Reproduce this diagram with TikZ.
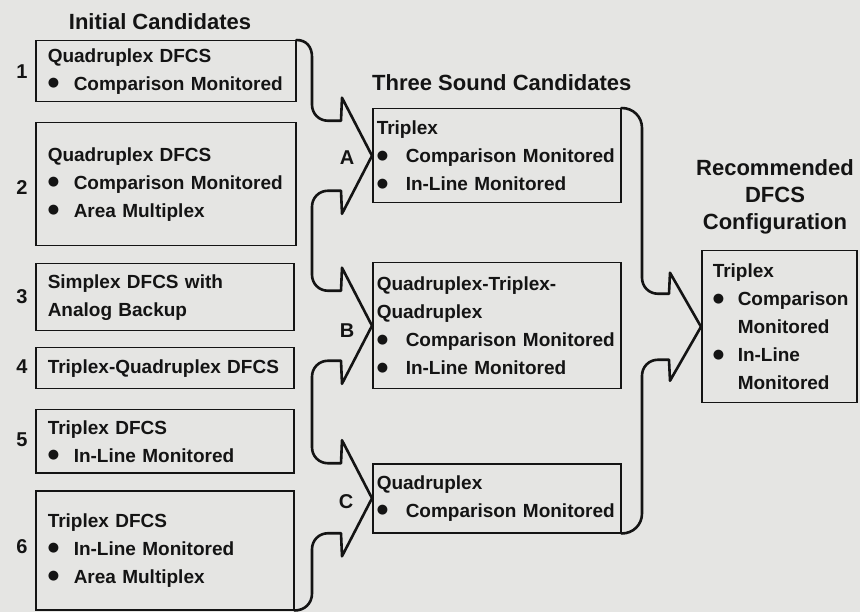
\documentclass[tikz,border=0pt]{standalone}
\usepackage{fontspec}
\setmainfont{Liberation Sans}
\newfontfamily\symf{DejaVu Sans}
\usetikzlibrary{calc}
\definecolor{bgc}{RGB}{229,229,227}
\definecolor{ink}{RGB}{20,20,20}
\newcommand\bul[2][26pt]{\makebox[#1][l]{\raisebox{3.5pt}{\symf\fontsize{13}{13}\selectfont ●}}\mbox{#2}}
\begin{document}
\begin{tikzpicture}[x=1pt,y=-1pt,
  every node/.style={text=ink},
  boxbase/.style={draw=ink, line width=1.5pt, anchor=north west, align=left,
    inner ysep=0pt, font=\bfseries\fontsize{19}{28}\selectfont},
  lbox/.style={boxbase, inner xsep=12pt, text width=236pt},
  mbox/.style={boxbase, inner xsep=4pt, text width=240pt},
  rbox/.style={boxbase, inner xsep=11pt, text width=133pt},
  title/.style={font=\bfseries\fontsize{22}{27}\selectfont, align=center, inner sep=0pt},
  num/.style={font=\bfseries\fontsize{20}{24}\selectfont, inner sep=0pt},
  lab/.style={font=\bfseries\fontsize{20}{24}\selectfont, inner sep=0pt},
  conn/.style={draw=ink, line width=2.6pt, line join=round, line cap=round}]

\fill[bgc] (0,0) rectangle (860,612);
\useasboundingbox (0,0) rectangle (860,612);

% titles
\node[title] (t1) at (160,22) {Initial Candidates};
\node[title, anchor=west] (t2) at (372,83) {Three Sound Candidates};
\node[title] (t3) at (775,197) {Recommended\\DFCS\\Configuration};

% initial candidates
\node[lbox, minimum height=61pt] (c1) at (35,40) {Quadruplex DFCS\\\bul{Comparison Monitored}};
\node[lbox, minimum height=123pt] (c2) at (35,122) {Quadruplex DFCS\\\bul{Comparison Monitored}\\\bul{Area Multiplex}};
\node[lbox, text width=234pt, minimum height=67pt] (c3) at (35,263) {Simplex DFCS with\\Analog Backup};
\node[lbox, text width=234pt, minimum height=41pt] (c4) at (35,347) {Triplex-Quadruplex DFCS};
\node[lbox, text width=234pt, minimum height=63pt] (c5) at (35,409) {Triplex DFCS\\\bul{In-Line Monitored}};
\node[lbox, text width=234pt, minimum height=119pt] (c6) at (35,490) {Triplex DFCS\\\bul{In-Line Monitored}\\\bul{Area Multiplex}};

\node[num] (n1) at (22,72) {1};
\node[num] (n2) at (22,188) {2};
\node[num] (n3) at (22,297) {3};
\node[num] (n4) at (22,367) {4};
\node[num] (n5) at (22,440) {5};
\node[num] (n6) at (22,547) {6};

% three sound candidates
\node[mbox, minimum height=94pt] (sA) at (372,108) {Triplex\\\bul[29pt]{Comparison Monitored}\\\bul[29pt]{In-Line Monitored}};
\node[mbox, minimum height=126pt] (sB) at (372,262) {Quadruplex-Triplex-\\Quadruplex\\\bul[29pt]{Comparison Monitored}\\\bul[29pt]{In-Line Monitored}};
\node[mbox, minimum height=69pt] (sC) at (372,463) {Quadruplex\\\bul[29pt]{Comparison Monitored}};

\node[lab] (lA) at ($(sA.west)+(-25,2)$) {A};
\node[lab] (lB) at ($(sB.west)+(-25,5)$) {B};
\node[lab] (lC) at ($(sC.west)+(-26,3)$) {C};

% recommended
\node[rbox, minimum height=152pt] (rec) at (701,250) {Triplex\\\bul[25pt]{Comparison}\\\hspace*{25pt}Monitored\\\bul[25pt]{In-Line}\\\hspace*{25pt}Monitored};

% spines
\coordinate (sp) at (312,0);
\coordinate (sp2) at (642,0);

\foreach \n/\b/\s/\i/\o/\d in {A/sA/sp/35/58/31, B/sB/sp/35/58/31, C/sC/sp/35/58/31, R/rec/sp2/33/54/32} {
  \coordinate (\n-t) at (\b.west);
  \coordinate (\n-ua) at ($(\b.west)+(-\d,-\i)$);
  \coordinate (\n-ub) at ($(\b.west)+(-\d+1,-\o)$);
  \coordinate (\n-la) at ($(\b.west)+(-\d,\i)$);
  \coordinate (\n-lb) at ($(\b.west)+(-\d+1,\o)$);
  \coordinate (\n-u0) at ($(\s |- \n-ua)+(0,-16)$);
  \coordinate (\n-u1) at ($(\s |- \n-ua)+(0,-7)$);
  \coordinate (\n-u2) at ($(\s |- \n-ua)+(7,0)$);
  \coordinate (\n-u3) at ($(\s |- \n-ua)+(16,0)$);
  \coordinate (\n-l3) at ($(\s |- \n-la)+(16,0)$);
  \coordinate (\n-l2) at ($(\s |- \n-la)+(7,0)$);
  \coordinate (\n-l1) at ($(\s |- \n-la)+(0,7)$);
  \coordinate (\n-l0) at ($(\s |- \n-la)+(0,16)$);
}

% left connector: boxes 1-6 to A, B, C
\draw[conn] (c1.north east) .. controls ($(c1.north east)+(10,0)$) and ($(sp |- c1.north east)+(0,7)$) .. ($(sp |- c1.north east)+(0,17)$)
  -- (A-u0) .. controls (A-u1) and (A-u2) .. (A-u3) -- (A-ua) -- (A-ub) -- (A-t) -- (A-lb) -- (A-la)
  -- (A-l3) .. controls (A-l2) and (A-l1) .. (A-l0)
  -- (B-u0) .. controls (B-u1) and (B-u2) .. (B-u3) -- (B-ua) -- (B-ub) -- (B-t) -- (B-lb) -- (B-la)
  -- (B-l3) .. controls (B-l2) and (B-l1) .. (B-l0)
  -- (C-u0) .. controls (C-u1) and (C-u2) .. (C-u3) -- (C-ua) -- (C-ub) -- (C-t) -- (C-lb) -- (C-la)
  -- (C-l3) .. controls (C-l2) and (C-l1) .. (C-l0)
  -- ($(sp |- c6.south east)+(0,-17)$) .. controls ($(sp |- c6.south east)+(0,-7)$) and ($(c6.south east)+(10,0)$) .. (c6.south east);

% right connector: A, B, C to recommended
\draw[conn] (sA.north east) .. controls ($(sA.north east)+(12,0)$) and ($(sp2 |- sA.north east)+(0,9)$) .. ($(sp2 |- sA.north east)+(0,20)$)
  -- (R-u0) .. controls (R-u1) and (R-u2) .. (R-u3) -- (R-ua) -- (R-ub) -- (R-t) -- (R-lb) -- (R-la)
  -- (R-l3) .. controls (R-l2) and (R-l1) .. (R-l0)
  -- ($(sp2 |- sC.south east)+(0,-20)$) .. controls ($(sp2 |- sC.south east)+(0,-9)$) and ($(sC.south east)+(12,0)$) .. (sC.south east);
\end{tikzpicture}
\end{document}
